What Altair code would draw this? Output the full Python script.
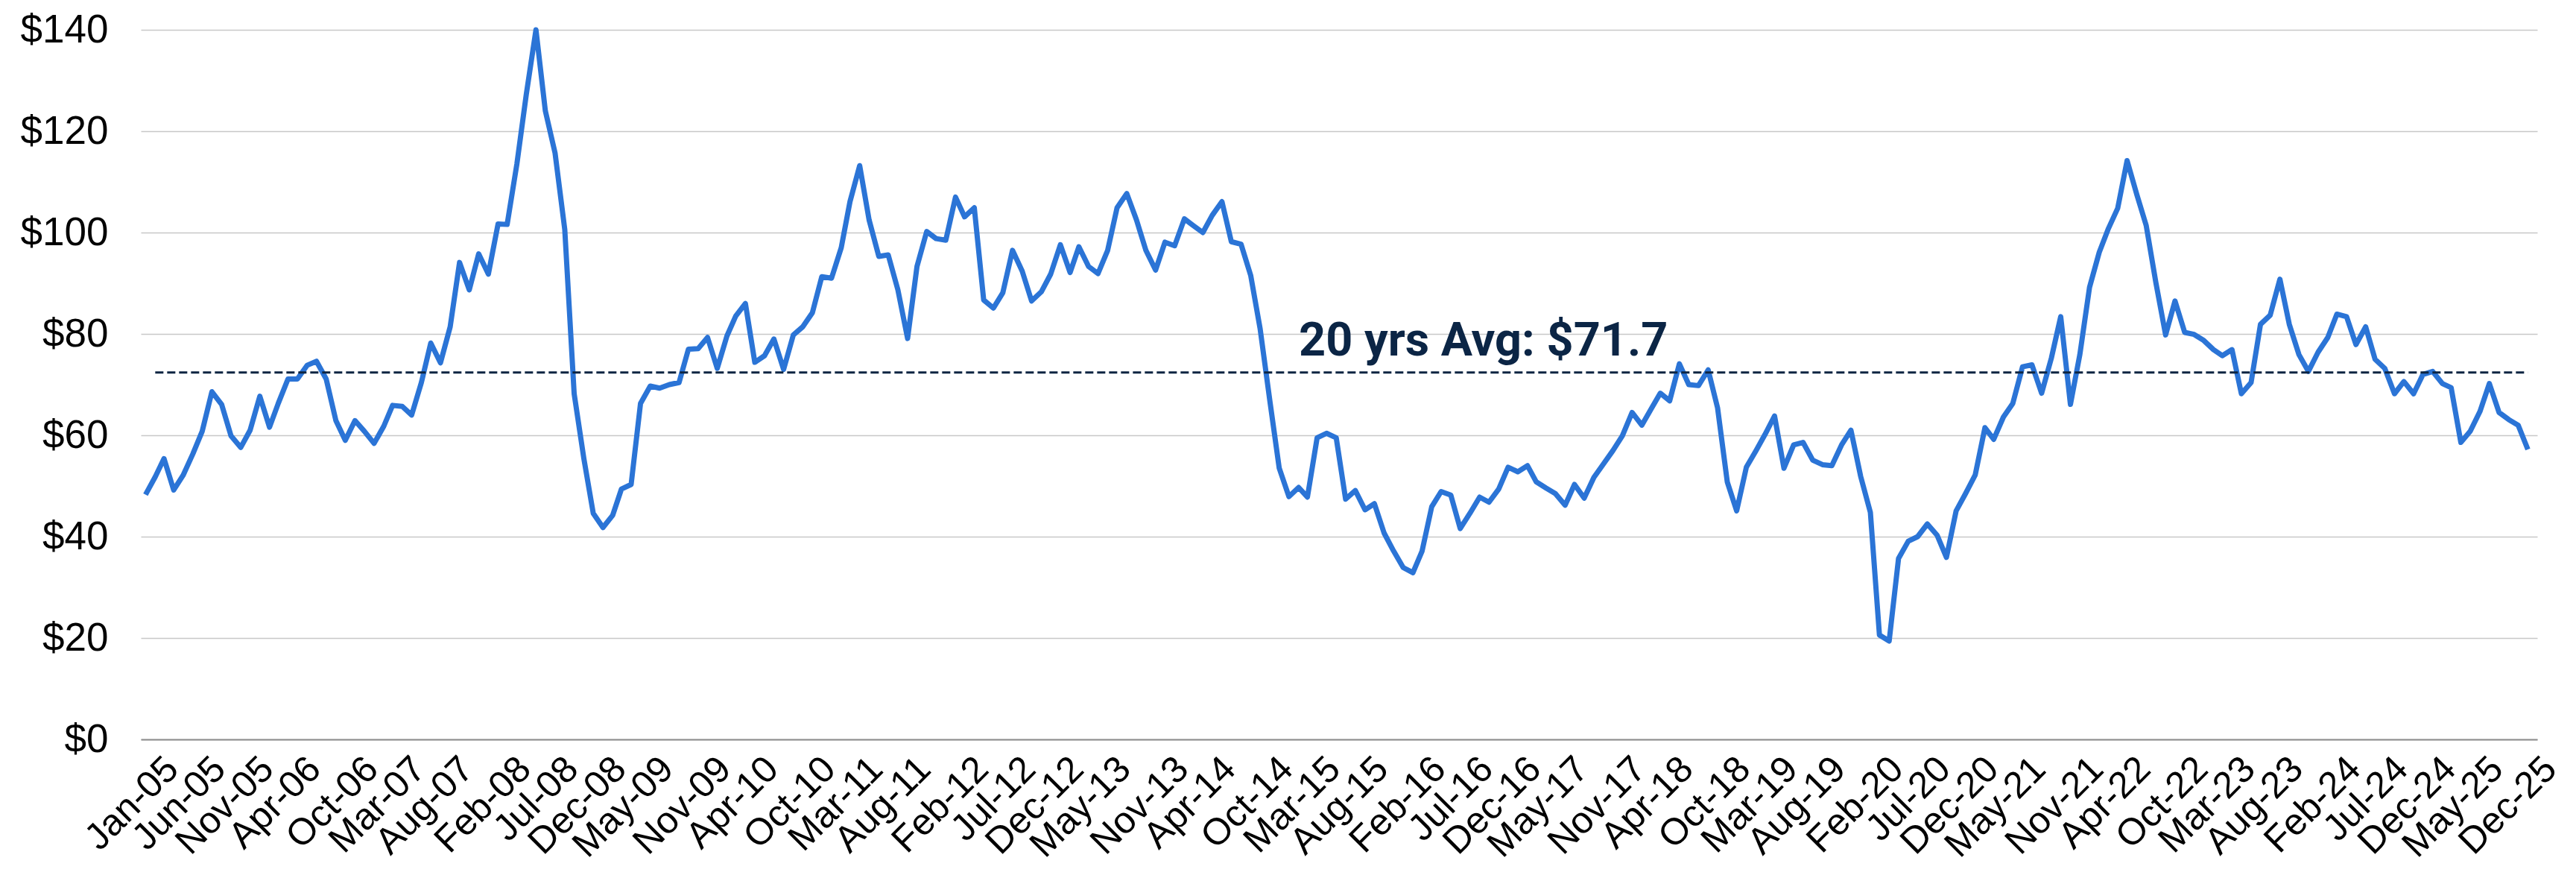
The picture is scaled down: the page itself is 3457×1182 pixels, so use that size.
import altair as alt
import pandas as pd

# Monthly price series (Jan-05 onward)
prices = [
    48.3, 51.8, 55.4, 49.2, 52.1, 56.3, 60.8, 68.6, 66.1, 59.9,
    57.6, 61.0, 67.7, 61.6, 66.3, 71.1, 71.1, 73.8, 74.6, 71.1,
    62.9, 59.0, 62.9, 60.8, 58.4, 61.8, 65.9, 65.7, 64.0, 70.4,
    78.2, 74.3, 81.4, 94.1, 88.7, 95.8, 91.8, 101.7, 101.6, 113.5,
    127.2, 140.0, 124.0, 115.7, 100.6, 68.2, 55.4, 44.6, 41.8, 44.2,
    49.4, 50.3, 66.3, 69.7, 69.3, 70.0, 70.4, 77.0, 77.1, 79.3,
    73.2, 79.6, 83.5, 86.0, 74.4, 75.7, 79.0, 73.0, 79.8, 81.4,
    84.2, 91.3, 91.0, 97.0, 106.1, 113.2, 102.5, 95.3, 95.6, 88.7,
    79.1, 93.3, 100.2, 98.8, 98.5, 107.0, 103.1, 104.9, 86.7, 85.1,
    88.1, 96.5, 92.4, 86.5, 88.3, 91.8, 97.6, 92.1, 97.2, 93.3,
    91.9, 96.5, 104.9, 107.7, 102.5, 96.5, 92.6, 98.1, 97.4, 102.7,
    101.4, 100.0, 103.4, 106.1, 98.2, 97.7, 91.5, 81.0, 66.8, 53.5,
    47.9, 49.7, 47.8, 59.5, 60.4, 59.5, 47.4, 49.1, 45.3, 46.5,
    40.7, 37.2, 33.9, 32.9, 37.1, 45.9, 48.9, 48.2, 41.6, 44.6,
    47.8, 46.8, 49.4, 53.7, 52.8, 54.0, 50.8, 49.6, 48.5, 46.2,
    50.3, 47.6, 51.7, 54.3, 57.0, 59.9, 64.5, 62.0, 65.0, 68.3,
    66.8, 74.1, 70.0, 69.8, 72.9, 65.4, 50.8, 45.1, 53.7, 57.0,
    60.1, 63.8, 53.5, 58.1, 58.6, 55.1, 54.2, 54.0, 58.1, 61.0,
    51.9, 44.8, 20.6, 19.4, 35.7, 39.1, 40.0, 42.5, 40.3, 35.9,
    45.1, 48.5, 52.2, 61.5, 59.2, 63.6, 66.3, 73.5, 73.9, 68.3,
    75.2, 83.4, 66.1, 75.9, 89.2, 96.1, 100.6, 104.8, 114.2, 107.5,
    101.4, 90.1, 79.8, 86.5, 80.3, 79.9, 78.7, 76.9, 75.7, 76.9,
    68.2, 70.4, 81.9, 83.7, 90.8, 81.9, 75.9, 72.6, 76.4, 79.3,
    83.9, 83.4, 77.9, 81.4, 75.0, 73.2, 68.2, 70.6, 68.2, 72.0,
    72.6, 70.2, 69.4, 58.6, 60.8, 64.7, 70.2, 64.5, 63.1, 62.0,
    57.2,
]
first_month = "2005-01-01"

tick_labels = [
    "Jan-05", "Jun-05", "Nov-05", "Apr-06", "Oct-06", "Mar-07", "Aug-07",
    "Feb-08", "Jul-08", "Dec-08", "May-09", "Nov-09", "Apr-10", "Oct-10",
    "Mar-11", "Aug-11", "Feb-12", "Jul-12", "Dec-12", "May-13", "Nov-13",
    "Apr-14", "Oct-14", "Mar-15", "Aug-15", "Feb-16", "Jul-16", "Dec-16",
    "May-17", "Nov-17", "Apr-18", "Oct-18", "Mar-19", "Aug-19", "Feb-20",
    "Jul-20", "Dec-20", "May-21", "Nov-21", "Apr-22", "Oct-22", "Mar-23",
    "Aug-23", "Feb-24", "Jul-24", "Dec-24", "May-25", "Dec-25",
]
y_ticks = [0, 20, 40, 60, 80, 100, 120, 140]

avg_level = 72.4
avg_text = "20 yrs Avg: $71.7"
avg_label_month = "2016-09-13T00:00:00"

months = pd.date_range(first_month, periods=len(prices), freq="MS")
df = pd.DataFrame({"month": months.strftime("%Y-%m-%dT00:00:00"), "price": prices})

avg_df = pd.DataFrame({
    "start": [months[1].strftime("%Y-%m-%dT00:00:00")],
    "end": [months[-1].strftime("%Y-%m-%dT00:00:00")],
    "avg": [avg_level],
})
label_df = pd.DataFrame({"month": [avg_label_month], "avg": [avg_level], "text": [avg_text]})

tick_dates = [pd.to_datetime(t, format="%b-%y") for t in tick_labels]
tick_values = [alt.DateTime(year=d.year, month=d.month, date=1) for d in tick_dates]

first = months[0] - pd.Timedelta(days=15)
last = tick_dates[-1]
x_scale = alt.Scale(domain=[
    alt.DateTime(year=first.year, month=first.month, date=first.day),
    alt.DateTime(year=last.year, month=last.month, date=1),
])
y_scale = alt.Scale(domain=[0, 140], nice=False, zero=True)

LABEL_FONT = "Liberation Sans"
last_tick_test = f"year(datum.value) == {last.year} && month(datum.value) == {last.month - 1}"

x_axis = alt.Axis(
    values=tick_values, format="%b-%y", labelAngle=-45, labelFontSize=50,
    labelFont=LABEL_FONT, labelColor="#000000", ticks=False, grid=False,
    domain=True, domainColor="#8c8c8c", domainWidth=2, labelPadding=14,
    labelOffset={"condition": {"test": last_tick_test, "value": 0}, "value": 18},
    labelOverlap=False, labelFlush=False, labelBound=False,
    title=None,
)
y_axis = alt.Axis(
    values=y_ticks, labelExpr="'$' + datum.value", ticks=False, domain=False,
    grid=True, gridColor="#c8c8c8", gridWidth=1.6, labelFontSize=53,
    labelFont=LABEL_FONT, labelColor="#000000", labelPadding=44, title=None,
)

line = alt.Chart(df).mark_line(color="#2b74d6", strokeWidth=7, strokeJoin="round").encode(
    x=alt.X("month:T", scale=x_scale, axis=x_axis),
    y=alt.Y("price:Q", scale=y_scale, axis=y_axis),
)

avg_rule = alt.Chart(avg_df).mark_rule(color="#0d2542", strokeWidth=3, strokeDash=[11, 5]).encode(
    x=alt.X("start:T", scale=x_scale),
    x2="end:T",
    y=alt.Y("avg:Q", scale=y_scale),
)

avg_label = alt.Chart(label_df).mark_text(
    font="Roboto", fontWeight="bold", fontSize=63, color="#0b2545",
    align="center", baseline="alphabetic", dy=-23,
).encode(
    x=alt.X("month:T", scale=x_scale),
    y=alt.Y("avg:Q", scale=y_scale),
    text="text:N",
)

chart = alt.layer(line, avg_rule, avg_label).properties(
    width=3216, height=952,
    autosize=alt.AutoSizeParams(type="none"),
    padding={"left": 181, "top": 32, "right": 40, "bottom": 178},
    background="#ffffff",
).configure_view(stroke=None)

chart.save("out.html", embed_options={"renderer": "svg", "actions": False})
